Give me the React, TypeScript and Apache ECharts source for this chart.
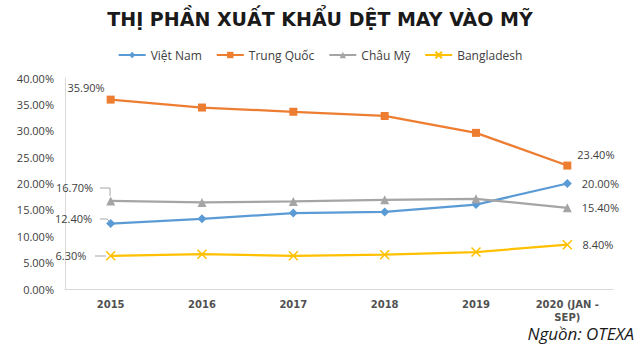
import React, { useEffect, useRef } from "react";
import * as echarts from "echarts";

const title = "THỊ PHẦN XUẤT KHẨU DỆT MAY VÀO MỸ";
const source = "Nguồn: OTEXA";
const categories = ["2015", "2016", "2017", "2018", "2019", "2020 (JAN - SEP)"];
const vietNam = [12.4, 13.3, 14.4, 14.6, 16.0, 20.0];
const trungQuoc = [35.9, 34.4, 33.6, 32.8, 29.6, 23.4];
const chauMy = [16.7, 16.4, 16.6, 16.9, 17.1, 15.4];
const bangladesh = [6.3, 6.6, 6.3, 6.5, 7.0, 8.4];
const seriesNames = ["Việt Nam", "Trung Quốc", "Châu Mỹ", "Bangladesh"];

const FONT = "'Open Sans', 'Noto Sans', sans-serif";

export default function App() {
  const ref = useRef<HTMLDivElement>(null);
  useEffect(() => {
    document.body.style.margin = "0";
    if (!ref.current) return;
    const chart = echarts.init(ref.current, null, { renderer: "svg" });
    const fmt = (v: number) => v.toFixed(2) + "%";
    const last = categories.length - 1;

    const mk = (
      name: string,
      values: number[],
      color: string,
      symbol: string,
      symbolSize: number,
      firstLabel: any,
      lastLabel: any
    ) => ({
      name,
      type: "line",
      data: values.map((v, i) => {
        const item: any = { value: v };
        if (i === 0) item.label = { show: true, ...firstLabel };
        else if (i === last) item.label = { show: true, ...lastLabel };
        return item;
      }),
      symbol,
      symbolSize,
      showAllSymbol: true,
      lineStyle: { color, width: 2.25 },
      itemStyle: {
        color,
        borderColor: color,
        borderWidth: symbol.startsWith("path") ? 1.5 : 0,
      },
      label: {
        show: false,
        formatter: (p: any) => fmt(p.value),
        color: "#404040",
        fontSize: 11,
        fontFamily: FONT,
      },
      emphasis: { disabled: true },
    });

    chart.setOption({
      animation: false,
      backgroundColor: "#ffffff",
      title: {
        text: title,
        left: "center",
        top: 4,
        textStyle: {
          fontFamily: "'DejaVu Sans', sans-serif",
          fontWeight: "bold",
          fontSize: 19,
          color: "#1a1a1a",
        },
      },
      legend: {
        top: 44,
        left: "center",
        itemWidth: 27,
        itemHeight: 8,
        itemGap: 14,
        textStyle: { fontFamily: FONT, fontSize: 12, color: "#404040" },
        data: seriesNames,
      },
      grid: { left: 65, right: 27, top: 78, bottom: 63 },
      xAxis: {
        type: "category",
        data: categories,
        boundaryGap: true,
        axisLine: { lineStyle: { color: "#d9d9d9", width: 1 } },
        axisTick: { show: false },
        axisLabel: {
          color: "#505050",
          fontFamily: "'DejaVu Sans', sans-serif",
          fontWeight: 600,
          fontSize: 10,
          margin: 9,
          lineHeight: 13,
          formatter: (v: string) => v.replace("- ", "-\n"),
        },
      },
      yAxis: {
        type: "value",
        min: 0,
        max: 40,
        interval: 5,
        axisLine: { show: true, lineStyle: { color: "#d9d9d9" } },
        axisTick: { show: false },
        splitLine: { show: false },
        axisLabel: {
          color: "#404040",
          fontFamily: FONT,
          fontSize: 11,
          margin: 11,
          formatter: (v: number) => fmt(v),
        },
      },
      series: [
        mk(
          seriesNames[0],
          vietNam,
          "#5B9BD5",
          "diamond",
          9,
          { position: "left", distance: 14, offset: [0, -5] },
          { position: "right", distance: 10 }
        ),
        mk(
          seriesNames[1],
          trungQuoc,
          "#ED7D31",
          "rect",
          8,
          { position: "left", distance: 2, offset: [0, -12] },
          { position: "right", distance: 4, offset: [2, -11] }
        ),
        mk(
          seriesNames[2],
          chauMy,
          "#A5A5A5",
          "triangle",
          9,
          { position: "left", distance: 13, offset: [0, -13] },
          { position: "right", distance: 10, offset: [0, 0] }
        ),
        mk(
          seriesNames[3],
          bangladesh,
          "#FFC000",
          "path://M0,0L10,10M10,0L0,10",
          9,
          { position: "left", distance: 19, offset: [0, 0] },
          { position: "right", distance: 10, offset: [0, 0] }
        ),
      ],
      graphic: [
        {
          type: "text",
          right: 6,
          top: 325,
          style: {
            text: source,
            fontFamily: FONT,
            fontStyle: "italic",
            fontSize: 17,
            fill: "#1a1a1a",
          },
        },
        {
          type: "polyline",
          silent: true,
          shape: { points: [[100, 188], [110, 188], [110, 196]] },
          style: { stroke: "#a6a6a6", lineWidth: 1, fill: "none" },
        },
        {
          type: "polyline",
          silent: true,
          shape: { points: [[100, 219], [107, 219], [110, 222]] },
          style: { stroke: "#a6a6a6", lineWidth: 1, fill: "none" },
        },
        {
          type: "line",
          silent: true,
          shape: { x1: 95, y1: 256, x2: 106, y2: 256 },
          style: { stroke: "#a6a6a6", lineWidth: 1 },
        },
      ],
    });
    return () => chart.dispose();
  }, []);
  return <div ref={ref} style={{ width: 640, height: 352 }} />;
}
